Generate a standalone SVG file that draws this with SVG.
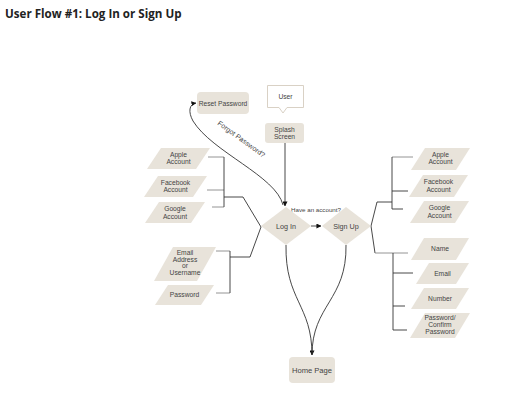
<svg xmlns="http://www.w3.org/2000/svg" width="512" height="401" viewBox="0 0 512 401">
<defs>
<style>
.title{font-family:"Open Sans","Liberation Sans",sans-serif;font-weight:700;font-size:11.6px;fill:#222}
.lbl{font-family:"Liberation Sans",Arial,sans-serif;font-size:6.7px;fill:#444;text-anchor:middle}
.box{fill:#e8e3da}
.call{fill:#fff;stroke:#d9d1c5;stroke-width:1}
.ln{fill:none;stroke:#333;stroke-width:0.9}
.stub{fill:none;stroke:#888;stroke-width:0.9}
</style>
<marker id="ah" viewBox="0 0 6 6" refX="5.5" refY="3" markerWidth="5" markerHeight="5" orient="auto" markerUnits="userSpaceOnUse">
<path d="M0,0 L6,3 L0,6 z" fill="#111"/>
</marker>
</defs>
<rect width="512" height="401" fill="#fff"/>
<text class="title" x="5" y="18">User Flow #1: Log In or Sign Up</text>

<g id="connectors">
<line class="ln" x1="285" y1="143" x2="285" y2="206" marker-end="url(#ah)"/>
<path class="ln" d="M283,205 C276,176 212,152 193,121 C188,112 189,104 196,103" marker-end="url(#ah)"/>
<line class="ln" x1="311" y1="226" x2="321" y2="226" marker-end="url(#ah)"/>
<path class="ln" d="M286,245 C285,300 312,305 312,355" marker-end="url(#ah)"/>
<path class="ln" d="M346,245 C347,300 312,305 312,355"/>
<polyline class="stub" points="208,157 224,157"/>
<polyline class="stub" points="207,190 224,190"/>
<polyline class="stub" points="212,207 224,207"/>
<polyline class="ln" points="224,157 224,207"/>
<polyline class="ln" points="224,197 243,197 261,227 250,257 230,257"/>
<polyline class="stub" points="216,251 230,251"/>
<polyline class="stub" points="216,293 230,293"/>
<polyline class="ln" points="230,251 230,293"/>
<polyline class="stub" points="392,157 413,157"/>
<polyline class="ln" points="392,191 408,191"/>
<polyline class="ln" points="392,209 403,209"/>
<polyline class="ln" points="392,157 392,209"/>
<polyline class="ln" points="392,202 377,202 371,226 375,253"/>
<polyline class="stub" points="375,253 408,253"/>
<polyline class="ln" points="393,253 393,330"/>
<polyline class="ln" points="393,273 413,273"/>
<polyline class="ln" points="393,306 405,306"/>
<polyline class="ln" points="393,330 407,330"/>
<text class="lbl" x="316" y="212" style="font-size:6.2px">Have an account?</text>
<text class="lbl" transform="translate(240,141) rotate(36)" style="font-size:7px">Forgot Password?</text>
</g>

<g id="user">
<path class="call" d="M267.5,85.5 H303.5 V107.5 H287 L283,113 L279,107.5 H267.5 Z"/>
<text class="lbl" x="285.5" y="99">User</text>
</g>
<g id="splash">
<rect class="box" x="265" y="123" width="39" height="20" rx="3"/>
<text class="lbl" x="284.5" y="131.5">Splash</text>
<text class="lbl" x="284.5" y="139">Screen</text>
</g>
<g id="reset">
<rect class="box" x="197" y="92" width="52" height="22" rx="4"/>
<text class="lbl" x="223" y="105.5">Reset Password</text>
</g>
<g id="login">
<polygon class="box" points="286,207 311,226 286,245 261,226"/>
<text class="lbl" x="286" y="228.5" style="font-size:7.2px">Log In</text>
</g>
<g id="signup">
<polygon class="box" points="346,207 371,226 346,245 322,226"/>
<text class="lbl" x="346" y="228.5" style="font-size:7.2px">Sign Up</text>
</g>
<g id="home">
<rect class="box" x="289" y="357" width="46" height="26" rx="4"/>
<text class="lbl" x="312" y="373" style="font-size:7.6px">Home Page</text>
</g>

<g id="l-apple">
<polygon class="box" points="147,169 161,148 210,148 196,169"/>
<text class="lbl" x="178.5" y="156.5">Apple</text>
<text class="lbl" x="178.5" y="164">Account</text>
</g>
<g id="l-facebook">
<polygon class="box" points="144,197 158,176 207,176 193,197"/>
<text class="lbl" x="175.5" y="184.5">Facebook</text>
<text class="lbl" x="175.5" y="192">Account</text>
</g>
<g id="l-google">
<polygon class="box" points="145,223 159,202 205,202 191,223"/>
<text class="lbl" x="175" y="211">Google</text>
<text class="lbl" x="175" y="218.5">Account</text>
</g>
<g id="l-email">
<polygon class="box" points="154,281 173,247 216,247 197,281"/>
<text class="lbl" x="185" y="255">Email</text>
<text class="lbl" x="185" y="261.5">Address</text>
<text class="lbl" x="185" y="268">or</text>
<text class="lbl" x="185" y="274.5">Username</text>
</g>
<g id="l-password">
<polygon class="box" points="155,305 168,285 214,285 201,305"/>
<text class="lbl" x="184.5" y="297">Password</text>
</g>

<g id="r-apple">
<polygon class="box" points="411,170 425,148 470,148 456,170"/>
<text class="lbl" x="440.5" y="156.5">Apple</text>
<text class="lbl" x="440.5" y="164">Account</text>
</g>
<g id="r-facebook">
<polygon class="box" points="409,197 423,175 468,175 454,197"/>
<text class="lbl" x="438.5" y="184">Facebook</text>
<text class="lbl" x="438.5" y="191.5">Account</text>
</g>
<g id="r-google">
<polygon class="box" points="410,223 424,201 469,201 455,223"/>
<text class="lbl" x="439.5" y="210">Google</text>
<text class="lbl" x="439.5" y="217.5">Account</text>
</g>
<g id="r-name">
<polygon class="box" points="411,260 424,238 469,238 456,260"/>
<text class="lbl" x="440" y="251">Name</text>
</g>
<g id="r-email">
<polygon class="box" points="416,284 429,263 469,263 456,284"/>
<text class="lbl" x="442.5" y="275.5">Email</text>
</g>
<g id="r-number">
<polygon class="box" points="411,309 424,288 469,288 456,309"/>
<text class="lbl" x="440" y="300.5">Number</text>
</g>
<g id="r-password">
<polygon class="box" points="410,338 425,313 470,313 455,338"/>
<text class="lbl" x="440" y="320">Password/</text>
<text class="lbl" x="440" y="327">Confirm</text>
<text class="lbl" x="440" y="334">Password</text>
</g>
</svg>
